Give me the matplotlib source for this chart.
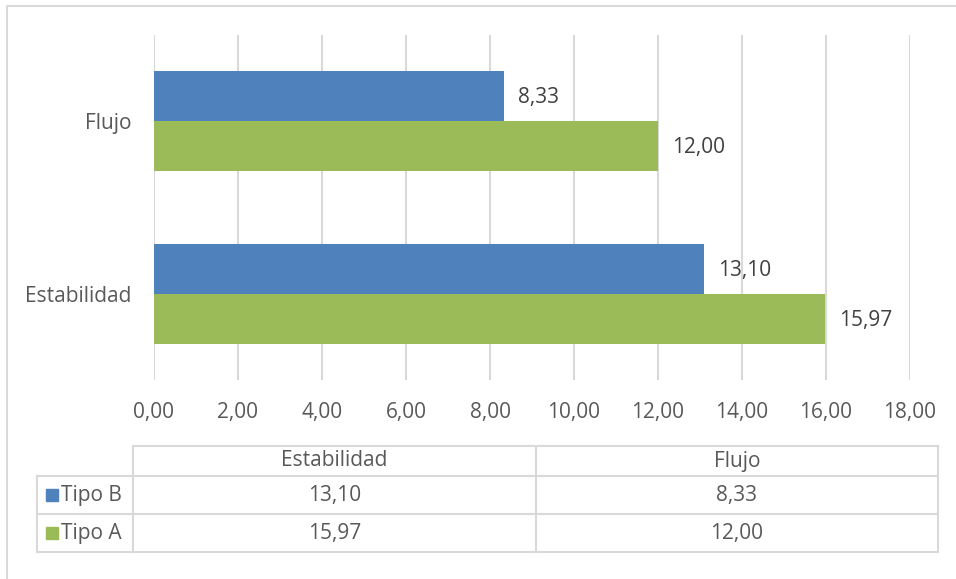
import numpy as np
import matplotlib.pyplot as plt
from matplotlib.patches import Rectangle

categorias = ['Estabilidad', 'Flujo']
series = ['Tipo B', 'Tipo A']
tipo_b = [13.10, 8.33]
tipo_a = [15.97, 12.00]
ticks = [0, 2, 4, 6, 8, 10, 12, 14, 16, 18]

azul = '#4F81BD'
verde = '#9BBB59'
gris_txt = '#595959'
gris_lin = '#D9D9D9'
fs = 15

plt.rcParams['font.family'] = ['Open Sans', 'DejaVu Sans']

W, H = 956, 579
fig = plt.figure(figsize=(W / 100, H / 100), dpi=100)

def coma(v):
    return '{:.2f}'.format(v).replace('.', ',')

# eje principal, posiciones en pixeles
x0, x1, y0, y1 = 154, 910, 35, 380
ax = fig.add_axes([x0 / W, 1 - y1 / H, (x1 - x0) / W, (y1 - y0) / H])

pos = np.arange(len(categorias))
alto = 0.289
ax.barh(pos + alto / 2, tipo_b, height=alto, color=azul, zorder=3)
ax.barh(pos - alto / 2, tipo_a, height=alto, color=verde, zorder=3)

for p, vb, va in zip(pos, tipo_b, tipo_a):
    ax.annotate(coma(vb), (vb, p + alto / 2), xytext=(10, -1), textcoords='offset points',
                va='center', ha='left', fontsize=fs, color='#404040')
    ax.annotate(coma(va), (va, p - alto / 2), xytext=(10, -1), textcoords='offset points',
                va='center', ha='left', fontsize=fs, color='#404040')

ax.set_xlim(0, 18)
ax.set_ylim(-0.5, 1.5)
ax.set_xticks(ticks)
ax.set_xticklabels([coma(t) for t in ticks], fontsize=fs, color=gris_txt)
ax.set_yticks(pos)
ax.set_yticklabels(categorias, fontsize=fs, color=gris_txt)
ax.tick_params(length=0)
ax.tick_params(axis='x', pad=16)
ax.tick_params(axis='y', pad=16)
ax.grid(axis='x', color=gris_lin, linewidth=1.5, zorder=0)
for s in ax.spines.values():
    s.set_visible(False)

# capa en pixeles para la tabla y el borde
ov = fig.add_axes([0, 0, 1, 1], zorder=5)
ov.set_xlim(0, W)
ov.set_ylim(H, 0)
ov.axis('off')
ov.patch.set_alpha(0)

# marco del grafico (recortado a la derecha y abajo)
ov.plot([7, 7, W + 5], [H + 5, 6, 6], color=gris_lin, lw=1.5, clip_on=False)

lw = 1.5
cx = [133, 536, 938]
ry = [446, 476, 514, 552]
# lineas de la tabla
ov.plot([cx[0], cx[2]], [ry[0], ry[0]], color=gris_lin, lw=lw)
for y in ry[1:]:
    ov.plot([37, cx[2]], [y, y], color=gris_lin, lw=lw)
for x in cx:
    ov.plot([x, x], [ry[0], ry[3]], color=gris_lin, lw=lw)
ov.plot([37, 37], [ry[1], ry[3]], color=gris_lin, lw=lw)

for j, cat in enumerate(categorias):
    xc = (cx[j] + cx[j + 1]) / 2
    ov.text(xc, (ry[0] + ry[1]) / 2, cat, ha='center', va='center', fontsize=fs, color=gris_txt)
    ov.text(xc, (ry[1] + ry[2]) / 2, coma(tipo_b[j]), ha='center', va='center', fontsize=fs, color=gris_txt)
    ov.text(xc, (ry[2] + ry[3]) / 2, coma(tipo_a[j]), ha='center', va='center', fontsize=fs, color=gris_txt)

for i, (nombre, col) in enumerate(zip(series, [azul, verde])):
    yc = (ry[i + 1] + ry[i + 2]) / 2
    ov.add_patch(Rectangle((46, yc - 6), 12, 12, color=col))
    ov.text(61, yc, nombre, ha='left', va='center', fontsize=fs, color=gris_txt)

fig.savefig('out.png', dpi=100)
